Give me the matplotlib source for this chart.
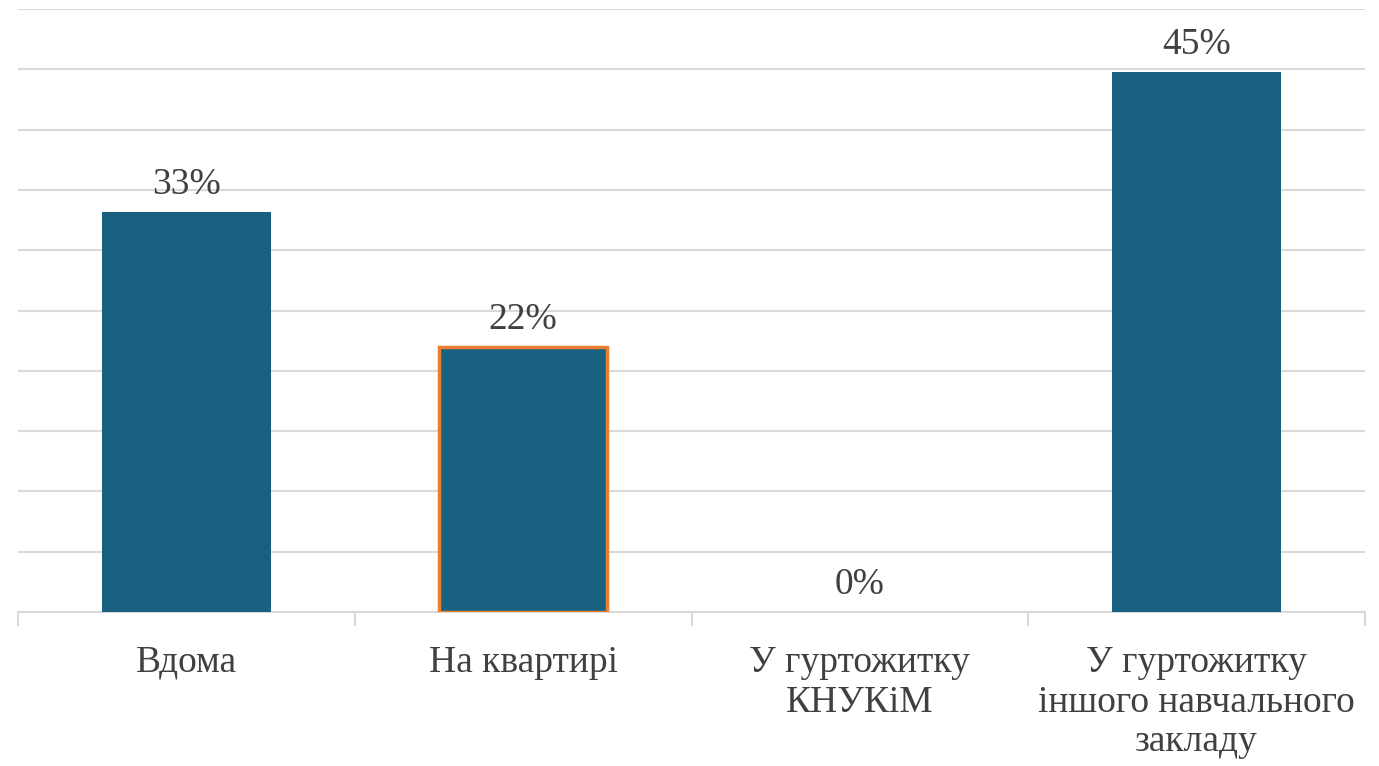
import matplotlib.pyplot as plt
import numpy as np

plt.rcParams['font.family'] = ['Liberation Serif', 'DejaVu Serif']

categories = ['Вдома', 'На квартирі', 'У гуртожитку\nКНУКіМ', 'У гуртожитку\nіншого навчального\nзакладу']
values = [33.2, 22.0, 0.0, 44.8]
labels = ['33%', '22%', '0%', '45%']
edges = ['#17607F', '#ED7D31', '#17607F', '#17607F']

fig = plt.figure(figsize=(13.79, 7.66), dpi=100)
ax = fig.add_axes([18/1379, (766-612)/766, (1365-18)/1379, (612-9)/766])

x = np.arange(len(categories))
bars = ax.bar(x, values, width=0.5, color='#17607F', edgecolor=edges, linewidth=2.5, zorder=3)
for b, e in zip(bars, edges):
    if e == '#17607F':
        b.set_linewidth(0)

for xi, v, t in zip(x, values, labels):
    ax.annotate(t, (xi, v), xytext=(0, 7), textcoords='offset points',
                ha='center', va='bottom', fontsize=27, color='#404040')

ax.set_xlim(-0.5, len(categories) - 0.5)
ax.set_ylim(0, 50)
ax.set_yticks(np.arange(0, 51, 5))
ax.yaxis.grid(True, color='#D9D9D9', linewidth=1.5, zorder=0)
ax.tick_params(axis='y', length=0, labelleft=False)

ax.set_xticks(x)
ax.set_xticklabels(categories, fontsize=27, color='#404040', linespacing=1.2)
ax.set_xticks(np.arange(-0.5, len(categories), 1), minor=True)
ax.tick_params(axis='x', which='major', length=0, pad=24)
ax.tick_params(axis='x', which='minor', length=10, color='#D9D9D9', width=1.5)

for s in ['top', 'right', 'left']:
    ax.spines[s].set_visible(False)
ax.spines['bottom'].set_color('#D9D9D9')
ax.spines['bottom'].set_linewidth(1.5)

fig.savefig('out.png', dpi=100)
